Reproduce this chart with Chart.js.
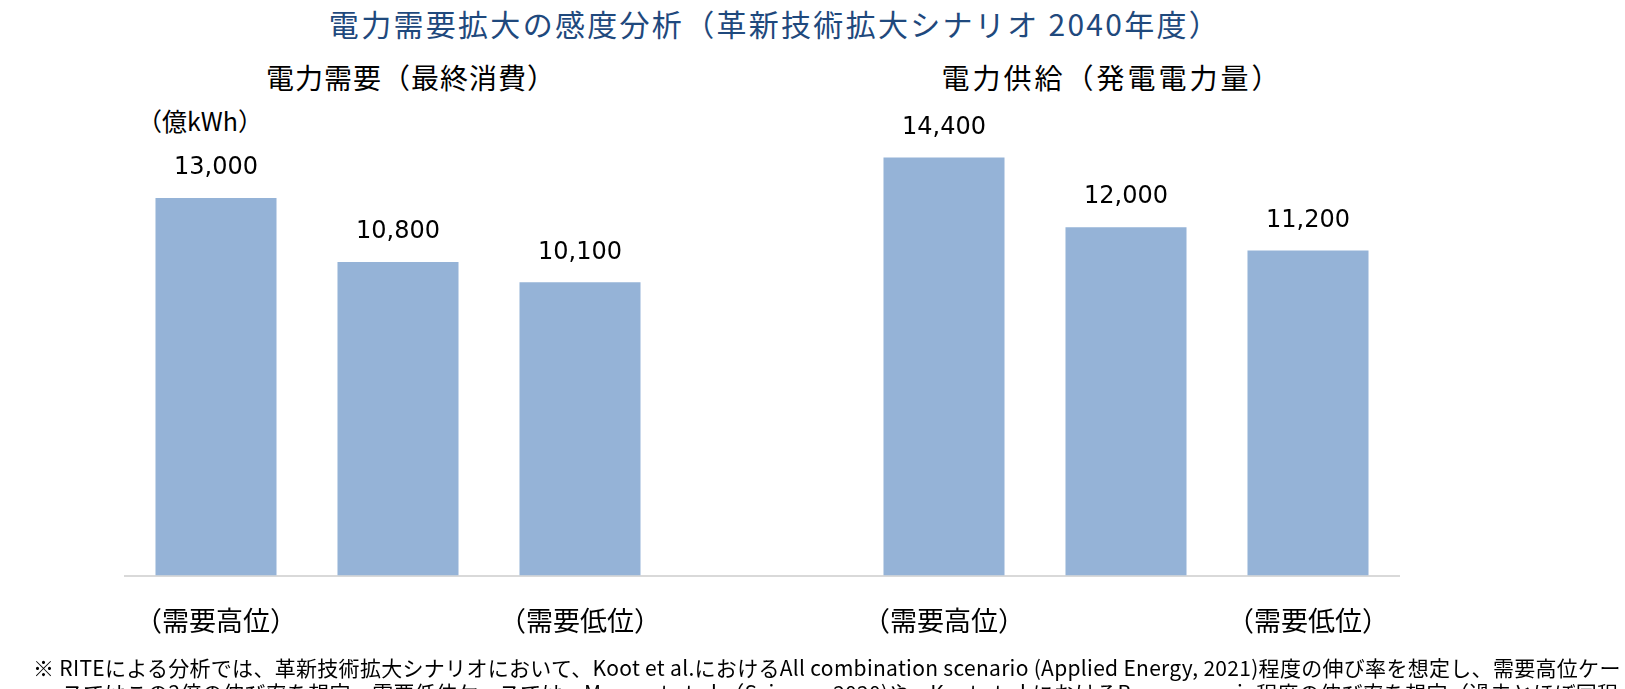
<!DOCTYPE html>
<html>
<head>
  <meta charset="utf-8">
  <title>電力需要拡大の感度分析</title>
  <script src="https://cdn.jsdelivr.net/npm/chart.js"></script>
  <style>
    html, body {
        margin: 0;
        padding: 0;
        width: 1625px;
        height: 689px;
        overflow: hidden;
        background: #ffffff;
        font-family: 'Noto Sans CJK JP', 'Noto Sans', sans-serif;
        color: #000;
    }
    .txt {
        position: absolute;
        white-space: nowrap;
        line-height: 1;
    }
    /* main title */
    .title {
        left: 0; width: 1550px; top: 8px;
        text-align: center;
        font-size: 30px;
        letter-spacing: 2.3px;
        color: #1f497d;
    }
    .sub { top: 63px; font-size: 28px; letter-spacing: 1px; transform: translateX(-50%); }
    .unit { left: 137px; top: 108px; font-size: 25px; }
    .note { left: 33px; font-size: 21px; letter-spacing: 0.3px; }
    #wrap { position: absolute; left: 0; top: 0; width: 1625px; height: 689px; }
  </style>
</head>
<body>
<div class="txt title">電力需要拡大の感度分析（革新技術拡大シナリオ 2040年度）</div>
<div class="txt sub" style="left:411px">電力需要（最終消費）</div>
<div class="txt sub" style="left:1112px; letter-spacing:3px">電力供給（発電電力量）</div>
<div class="txt unit">（億kWh）</div>

<div id="wrap"><canvas id="chart"></canvas></div>

<div class="txt note" style="top:657px">※ RITEによる分析では、革新技術拡大シナリオにおいて、Koot et al.におけるAll combination scenario (Applied Energy, 2021)程度の伸び率を想定し、需要高位ケー</div>
<div class="txt note" style="top:682px; left:62px">スではこの2倍の伸び率を想定。需要低位ケースでは、Masanet et al.（Science, 2020)や、Koot et al.におけるBase scenario程度の伸び率を想定（過去とほぼ同程</div>

<script>
  // categories (4th slot is the gap between the two groups)
  const caseLabels = ['（需要高位）', '', '（需要低位）', '', '（需要高位）', '', '（需要低位）'];
  // 億kWh : demand (final consumption) then supply (generation)
  const demandValues = [13000, 10800, 10100];
  const supplyValues = [14400, 12000, 11200];

  const values = [...demandValues, null, ...supplyValues];

  // value labels above each bar
  const valueLabels = {
      id: 'valueLabels',
      afterDatasetsDraw(chart) {
          const ctx = chart.ctx;
          const meta = chart.getDatasetMeta(0);
          ctx.save();
          ctx.font = '24px "DejaVu Sans", sans-serif';
          ctx.fillStyle = '#000';
          ctx.textAlign = 'center';
          ctx.textBaseline = 'middle';
          meta.data.forEach((bar, i) => {
              const v = values[i];
              if (v == null) return;
              ctx.fillText(v.toLocaleString('en-US'), bar.x, bar.y - 30);
          });
          ctx.restore();
      }
  };

  new Chart(document.getElementById('chart'), {
      type: 'bar',
      data: {
          labels: caseLabels,
          datasets: [{
              data: values,
              backgroundColor: '#95b3d7',
              categoryPercentage: 1,
              barPercentage: 0.665
          }]
      },
      options: {
          responsive: true,
          maintainAspectRatio: false,
          animation: false,
          layout: { padding: { left: 125, right: 226, top: 111, bottom: 23 } },
          plugins: {
              legend: { display: false },
              tooltip: { enabled: false }
          },
          scales: {
              x: {
                  grid: { display: false, drawTicks: false },
                  border: { display: true, color: '#d9d9d9', width: 2 },
                  ticks: {
                      padding: 29,
                      color: '#000',
                      autoSkip: false,
                      maxRotation: 0,
                      font: { family: '"Noto Sans CJK JP", sans-serif', size: 27 }
                  }
              },
              y: {
                  display: false,
                  min: 0,
                  max: 16000
              }
          }
      },
      plugins: [valueLabels]
  });
</script>
</body>
</html>
